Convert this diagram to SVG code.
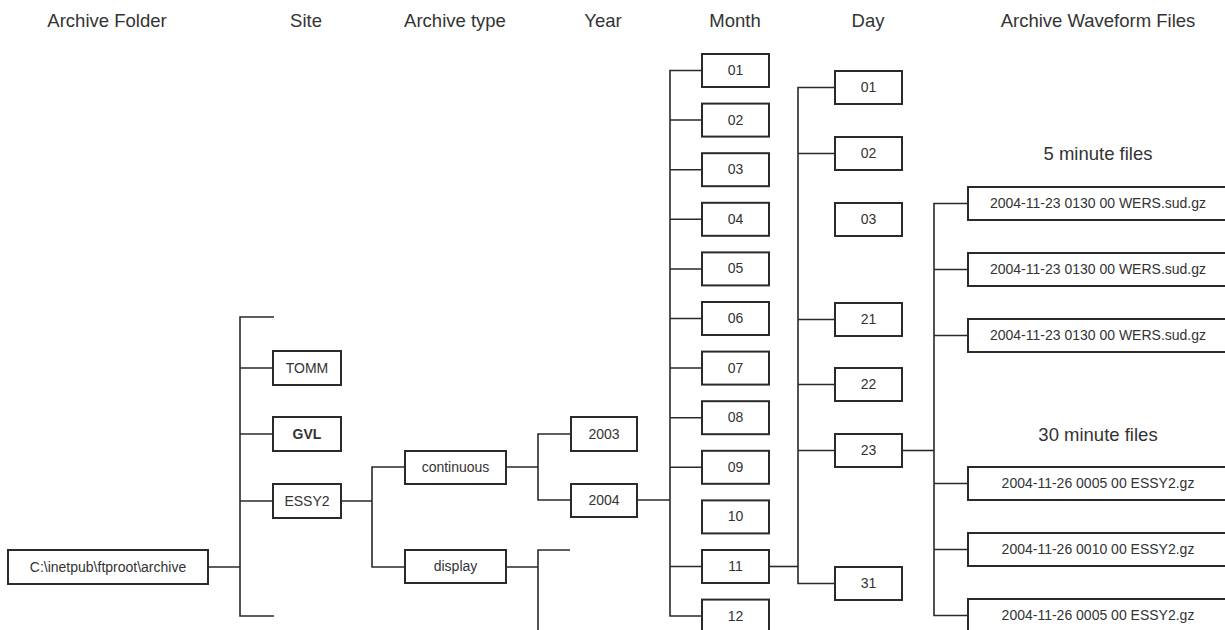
<svg xmlns="http://www.w3.org/2000/svg" width="1225" height="630" viewBox="0 0 1225 630">
<style>
  rect.b { fill: #fff; stroke: #2a2a2a; stroke-width: 2; }
  text { font-family: "Liberation Sans", Arial, sans-serif; fill: #333; }
  text.h { font-size: 18.5px; text-anchor: middle; }
  text.t { font-size: 14px; text-anchor: middle; }
  #connectors path { fill: none; stroke: #2a2a2a; stroke-width: 1.6; }
</style>
<rect width="1225" height="630" fill="#fff"/>
<g id="headers">
  <text class="h" x="107" y="27">Archive Folder</text>
  <text class="h" x="306" y="27">Site</text>
  <text class="h" x="455" y="27">Archive type</text>
  <text class="h" x="603" y="27">Year</text>
  <text class="h" x="735" y="27">Month</text>
  <text class="h" x="868" y="27">Day</text>
  <text class="h" x="1098" y="27">Archive Waveform Files</text>
  <text class="h" x="1098" y="160">5 minute files</text>
  <text class="h" x="1098" y="441">30 minute files</text>
</g>
<g id="connectors">
  <path d="M208 567H240M274 317H240V616H274M240 368H273M240 434H273M240 501H273"/>
  <path d="M341 501H372M405 467H372V567H405"/>
  <path d="M506 467H538M571 434H538V500H571"/>
  <path d="M506 567H538M570 550H538V630"/>
  <path d="M637 500H670"/>
  <path d="M702 70.5H670V616H702M670 120H702M670 169.7H702M670 219.3H702M670 269H702M670 318.5H702M670 368H702M670 417.7H702M670 467.3H702M670 566.5H702"/>
  <path d="M769 566.5H798"/>
  <path d="M835 87.5H798V583.5H835M798 153.5H835M798 319.5H835M798 384.5H835M798 450.5H835"/>
  <path d="M902 450.5H934"/>
  <path d="M968 203.5H934V615.5H968M934 269.5H968M934 335.5H968M934 483.5H968M934 549.5H968"/>
</g>
<g id="archive"><rect class="b" x="8" y="550" width="200" height="34"/><text class="t" x="108" y="572">C:\inetpub\ftproot\archive</text></g>
<g id="site-tomm"><rect class="b" x="273" y="351" width="68" height="34"/><text class="t" x="307" y="373">TOMM</text></g>
<g id="site-gvl"><rect class="b" x="273" y="417" width="68" height="34"/><text class="t" x="307" y="439" font-weight="bold">GVL</text></g>
<g id="site-essy2"><rect class="b" x="273" y="484" width="68" height="34"/><text class="t" x="307" y="506">ESSY2</text></g>
<g id="type-continuous"><rect class="b" x="405" y="451" width="101" height="33"/><text class="t" x="455.5" y="472">continuous</text></g>
<g id="type-display"><rect class="b" x="405" y="550" width="101" height="33"/><text class="t" x="455.5" y="571">display</text></g>
<g id="year-2003"><rect class="b" x="571" y="417" width="66" height="34"/><text class="t" x="604" y="439">2003</text></g>
<g id="year-2004"><rect class="b" x="571" y="484" width="66" height="33"/><text class="t" x="604" y="505">2004</text></g>
<g id="month-01"><rect class="b" x="702" y="54" width="67" height="33"/><text class="t" x="735.5" y="75">01</text></g>
<g id="month-02"><rect class="b" x="702" y="103.6" width="67" height="33"/><text class="t" x="735.5" y="124.6">02</text></g>
<g id="month-03"><rect class="b" x="702" y="153.2" width="67" height="33"/><text class="t" x="735.5" y="174.2">03</text></g>
<g id="month-04"><rect class="b" x="702" y="202.8" width="67" height="33"/><text class="t" x="735.5" y="223.8">04</text></g>
<g id="month-05"><rect class="b" x="702" y="252.4" width="67" height="33"/><text class="t" x="735.5" y="273.4">05</text></g>
<g id="month-06"><rect class="b" x="702" y="302" width="67" height="33"/><text class="t" x="735.5" y="323">06</text></g>
<g id="month-07"><rect class="b" x="702" y="351.6" width="67" height="33"/><text class="t" x="735.5" y="372.6">07</text></g>
<g id="month-08"><rect class="b" x="702" y="401.2" width="67" height="33"/><text class="t" x="735.5" y="422.2">08</text></g>
<g id="month-09"><rect class="b" x="702" y="450.8" width="67" height="33"/><text class="t" x="735.5" y="471.8">09</text></g>
<g id="month-10"><rect class="b" x="702" y="500.4" width="67" height="33"/><text class="t" x="735.5" y="521.4">10</text></g>
<g id="month-11"><rect class="b" x="702" y="550" width="67" height="33"/><text class="t" x="735.5" y="571">11</text></g>
<g id="month-12"><rect class="b" x="702" y="599.6" width="67" height="33"/><text class="t" x="735.5" y="620.6">12</text></g>
<g id="day-01"><rect class="b" x="835" y="71" width="67" height="33"/><text class="t" x="868.5" y="92">01</text></g>
<g id="day-02"><rect class="b" x="835" y="137" width="67" height="33"/><text class="t" x="868.5" y="158">02</text></g>
<g id="day-03"><rect class="b" x="835" y="203" width="67" height="33"/><text class="t" x="868.5" y="224">03</text></g>
<g id="day-21"><rect class="b" x="835" y="303" width="67" height="33"/><text class="t" x="868.5" y="324">21</text></g>
<g id="day-22"><rect class="b" x="835" y="368" width="67" height="33"/><text class="t" x="868.5" y="389">22</text></g>
<g id="day-23"><rect class="b" x="835" y="434" width="67" height="33"/><text class="t" x="868.5" y="455">23</text></g>
<g id="day-31"><rect class="b" x="835" y="567" width="67" height="33"/><text class="t" x="868.5" y="588">31</text></g>
<g id="file-1"><rect class="b" x="968" y="187" width="270" height="33"/><text class="t" x="1098" y="208">2004-11-23 0130 00 WERS.sud.gz</text></g>
<g id="file-2"><rect class="b" x="968" y="253" width="270" height="33"/><text class="t" x="1098" y="274">2004-11-23 0130 00 WERS.sud.gz</text></g>
<g id="file-3"><rect class="b" x="968" y="319" width="270" height="33"/><text class="t" x="1098" y="340">2004-11-23 0130 00 WERS.sud.gz</text></g>
<g id="file-4"><rect class="b" x="968" y="467" width="270" height="33"/><text class="t" x="1098" y="488">2004-11-26 0005 00 ESSY2.gz</text></g>
<g id="file-5"><rect class="b" x="968" y="533" width="270" height="33"/><text class="t" x="1098" y="554">2004-11-26 0010 00 ESSY2.gz</text></g>
<g id="file-6"><rect class="b" x="968" y="599" width="270" height="33"/><text class="t" x="1098" y="620">2004-11-26 0005 00 ESSY2.gz</text></g>
</svg>
